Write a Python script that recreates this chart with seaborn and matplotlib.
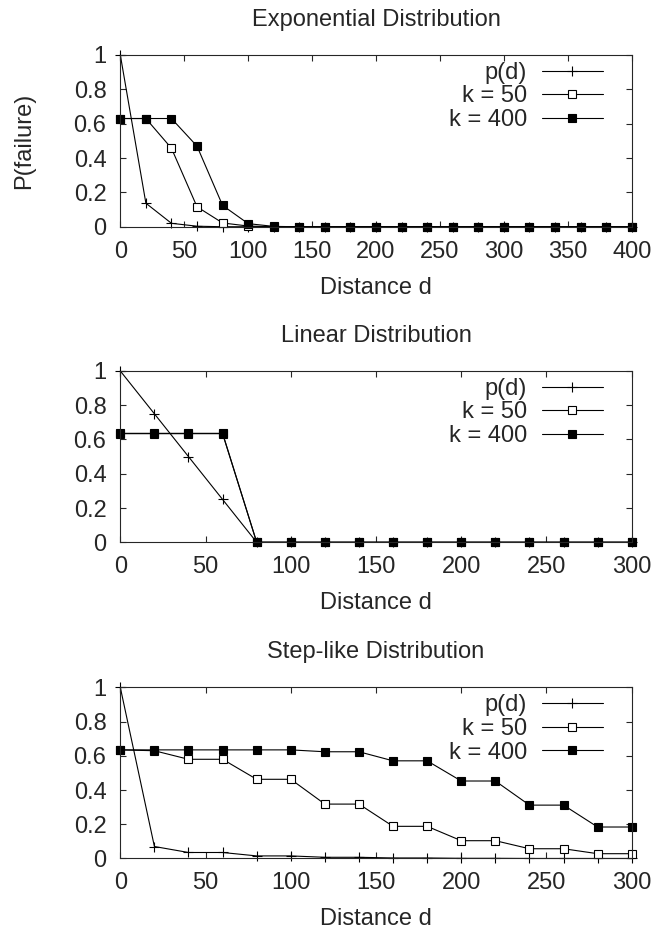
import numpy as np
import pandas as pd
import matplotlib
matplotlib.use("Agg")
import matplotlib.pyplot as plt
import seaborn as sns

# distances sampled every 20 units
exp_d = list(range(0, 401, 20))
lin_d = list(range(0, 301, 20))
step_d = list(range(0, 301, 20))

# Exponential distribution panel
exp_p = [1.0, 0.137, 0.02, 0.003] + [0.0] * 17
exp_k50 = [0.63, 0.63, 0.457, 0.116, 0.022, 0.004] + [0.0] * 15
exp_k400 = [0.63, 0.63, 0.63, 0.469, 0.124, 0.018, 0.002] + [0.0] * 14

# Linear distribution panel
lin_p = [1.0, 0.75, 0.5, 0.25] + [0.0] * 12
lin_k50 = [0.634, 0.634, 0.634, 0.634] + [0.0] * 12
lin_k400 = [0.636, 0.636, 0.636, 0.636] + [0.0] * 12

# Step-like distribution panel
step_p = [1.0, 0.07, 0.035, 0.035, 0.015, 0.015, 0.007, 0.007, 0.003, 0.003,
          0.001, 0.001, 0.0, 0.0, 0.0, 0.0]
step_k50 = [0.635, 0.63, 0.58, 0.58, 0.463, 0.463, 0.318, 0.318, 0.188, 0.188,
            0.104, 0.104, 0.057, 0.057, 0.028, 0.028]
step_k400 = [0.635, 0.635, 0.635, 0.635, 0.635, 0.635, 0.624, 0.624, 0.571, 0.571,
             0.453, 0.453, 0.312, 0.312, 0.184, 0.184]

y_ticks = [0, 0.2, 0.4, 0.6, 0.8, 1]
y_ticklabels = ["0", "0.2", "0.4", "0.6", "0.8", "1"]

panels = [
    ("Exponential Distribution", exp_d, exp_p, exp_k50, exp_k400, 400),
    ("Linear Distribution", lin_d, lin_p, lin_k50, lin_k400, 300),
    ("Step-like Distribution", step_d, step_p, step_k50, step_k400, 300),
]

sns.set_style("ticks")
plt.rcParams['font.family'] = ['Liberation Sans', 'DejaVu Sans']
FS = 17

fig = plt.figure(figsize=(6.56, 9.30), dpi=100)
# axes rectangles [left, bottom, width, height]
rects = [[0.1834, 0.7562, 0.7796, 0.1847],
         [0.1834, 0.4169, 0.7796, 0.1842],
         [0.1834, 0.0769, 0.7796, 0.1839]]

for i, (title, d, p, k50, k400, xmax) in enumerate(panels):
    ax = fig.add_axes(rects[i])
    common = dict(ax=ax, color='black', linewidth=0.8, clip_on=False,
                  markeredgecolor='black', markeredgewidth=0.8)
    sns.lineplot(x=d, y=p, marker='+', markersize=7, label='p(d)', **common)
    sns.lineplot(x=d, y=k50, marker='s', markersize=6, markerfacecolor='white',
                 label='k = 50', **common)
    sns.lineplot(x=d, y=k400, marker='s', markersize=6, markerfacecolor='black',
                 label='k = 400', **common)
    ax.set_xlim(0, xmax)
    ax.set_ylim(0, 1)
    ax.set_xticks(list(range(0, xmax + 1, 50)))
    ax.set_yticks(y_ticks)
    ax.set_yticklabels(y_ticklabels)
    ax.tick_params(direction='in', top=True, right=True, length=4,
                   width=0.8, labelsize=FS)
    ax.tick_params(axis='y', pad=10)
    ax.tick_params(axis='x', pad=10)
    for s in ax.spines.values():
        s.set_linewidth(0.8)
    ax.set_title(title, fontsize=FS, pad=21)
    ax.set_xlabel('Distance d', fontsize=FS, labelpad=10)
    if i == 0:
        ax.set_ylabel('P(failure)', fontsize=FS, labelpad=28)
    ax.legend(loc='upper right', bbox_to_anchor=(0.943, 0.96), frameon=False,
              markerfirst=False, handlelength=2.55, handletextpad=0.65,
              labelspacing=0.07, borderaxespad=0, borderpad=0, fontsize=FS)

fig.savefig('out.png', dpi=100)
